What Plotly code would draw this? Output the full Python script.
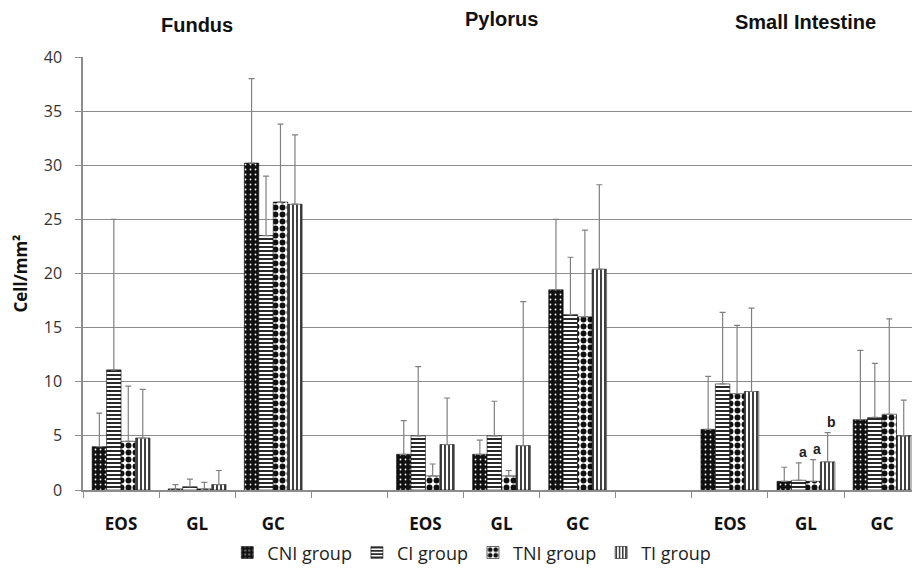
import plotly.graph_objects as go

organs = ["Fundus", "Pylorus", "Small Intestine"]
cell_types = ["EOS", "GL", "GC"]
groups = ["CNI group", "CI group", "TNI group", "TI group"]

# Means, order: Fundus EOS/GL/GC, Pylorus EOS/GL/GC, Small Intestine EOS/GL/GC
cni_mean = [4.0, 0.1, 30.2, 3.3, 3.3, 18.5, 5.6, 0.8, 6.5]
ci_mean = [11.1, 0.3, 23.5, 5.0, 5.0, 16.2, 9.8, 0.9, 6.7]
tni_mean = [4.5, 0.1, 26.6, 1.3, 1.3, 16.0, 8.9, 0.8, 7.0]
ti_mean = [4.8, 0.5, 26.4, 4.2, 4.1, 20.4, 9.1, 2.6, 5.0]

# Upper ends of error bars (mean + SD)
cni_upper = [7.1, 0.5, 38.0, 6.4, 4.6, 25.0, 10.5, 2.1, 12.9]
ci_upper = [25.0, 1.0, 29.0, 11.4, 8.2, 21.5, 16.4, 2.5, 11.7]
tni_upper = [9.6, 0.7, 33.8, 2.4, 1.8, 24.0, 15.2, 2.8, 15.8]
ti_upper = [9.3, 1.8, 32.8, 8.5, 17.4, 28.2, 16.8, 5.3, 8.3]

# Significance letters: (organ, cell type, group, letter)
sig_labels = [("Small Intestine", "GL", "CI group", "a"),
              ("Small Intestine", "GL", "TNI group", "a"),
              ("Small Intestine", "GL", "TI group", "b")]

y_ticks = [0, 5, 10, 15, 20, 25, 30, 35, 40]

means = [cni_mean, ci_mean, tni_mean, ti_mean]
uppers = [cni_upper, ci_upper, tni_upper, ti_upper]

# category slots: 3 cell types per organ, with 1 empty spacer slot between organs
slots_per_organ = len(cell_types) + 1
x_pos = []
tick_text = []
for oi, org in enumerate(organs):
    for ci, ct in enumerate(cell_types):
        x_pos.append(oi * slots_per_organ + ci)
        tick_text.append(ct)
n_slots = len(organs) * slots_per_organ - 1
boundaries = [i - 0.5 for i in range(n_slots + 2)]

styles = [
    dict(shape=".", bgcolor="#111111", fgcolor="#ffffff", size=5, solidity=0.1),
    dict(shape="-", bgcolor="#ffffff", fgcolor="#111111", size=4, solidity=0.45),
    dict(shape=".", bgcolor="#ffffff", fgcolor="#111111", size=7, solidity=0.55),
    dict(shape="|", bgcolor="#ffffff", fgcolor="#111111", size=4, solidity=0.4),
]

fig = go.Figure()
for g, m, u, st in zip(groups, means, uppers, styles):
    fig.add_trace(go.Bar(
        name=g, x=x_pos, y=m,
        marker=dict(color=st["bgcolor"], line=dict(color="#111111", width=0.6),
                    pattern=dict(shape=st["shape"], bgcolor=st["bgcolor"],
                                 fgcolor=st["fgcolor"], size=st["size"],
                                 solidity=st["solidity"], fillmode="replace")),
        error_y=dict(type="data", symmetric=False,
                     array=[a - b for a, b in zip(u, m)],
                     arrayminus=[0] * len(m),
                     color="#808080", thickness=1.2, width=3),
    ))

bargap = 0.24
bar_w = (1 - bargap) / len(groups)
for org, ct, grp, letter in sig_labels:
    oi = organs.index(org)
    ci = cell_types.index(ct)
    gi = groups.index(grp)
    k = oi * len(cell_types) + ci
    xc = x_pos[k] - (1 - bargap) / 2 + bar_w * (gi + 0.5)
    fig.add_annotation(x=xc, y=uppers[gi][k], text="<b>%s</b>" % letter,
                       showarrow=False, yanchor="bottom", xshift=4, yshift=1,
                       font=dict(family="Liberation Sans", size=14, color="#222222"))

title_y = {"Fundus": 1.073, "Pylorus": 1.087, "Small Intestine": 1.08}
for oi, org in enumerate(organs):
    xc = oi * slots_per_organ + 1
    fig.add_annotation(x=xc, xref="x", y=title_y[org], yref="paper",
                       text="<b>%s</b>" % org, showarrow=False,
                       xshift=0, yanchor="middle",
                       font=dict(family="Liberation Sans", size=20, color="#111111"))

x_right = -0.5 + (912 - 83) / 76.1

fig.update_layout(
    width=912, height=568,
    margin=dict(l=83, r=0, t=57, b=78, autoexpand=False),
    paper_bgcolor="white", plot_bgcolor="white",
    barmode="group", bargap=bargap, bargroupgap=0,
    font=dict(family="Open Sans", color="#222222"),
    showlegend=True,
    legend=dict(orientation="h", x=0.469, xanchor="center", y=-0.145,
                yanchor="middle", font=dict(size=18, color="#222222"),
                itemwidth=30, traceorder="normal"),
    xaxis=dict(range=[-0.5, x_right], tickmode="array", tickvals=x_pos,
               ticktext=tick_text, ticks="", ticklabelstandoff=18, automargin=False,
               tickfont=dict(size=17, color="#111111", family="Open Sans", weight="bold"),
               showline=True, linecolor="#8c8c8c", linewidth=1.5,
               showgrid=False, zeroline=False,
               minor=dict(tickmode="array", tickvals=boundaries, ticks="outside",
                          ticklen=6, tickcolor="#8c8c8c", tickwidth=1.2, showgrid=False)),
    yaxis=dict(range=[0, 40], tickmode="array", tickvals=y_ticks, automargin=False,
               ticks="outside", ticklen=6, tickcolor="#8c8c8c", tickwidth=1.2,
               ticklabelstandoff=10,
               tickfont=dict(size=16, color="#333333"),
               showline=True, linecolor="#8c8c8c", linewidth=1.5,
               showgrid=True, gridcolor="#8c8c8c", gridwidth=1.4, zeroline=False,
               title=dict(text="<b>Cell/mm²</b>", standoff=12,
                          font=dict(size=17, color="#111111"))),
)

fig.write_html("out.html", config={"displayModeBar": False},
               post_script="document.body.style.margin='0';document.body.style.overflow='hidden';")
